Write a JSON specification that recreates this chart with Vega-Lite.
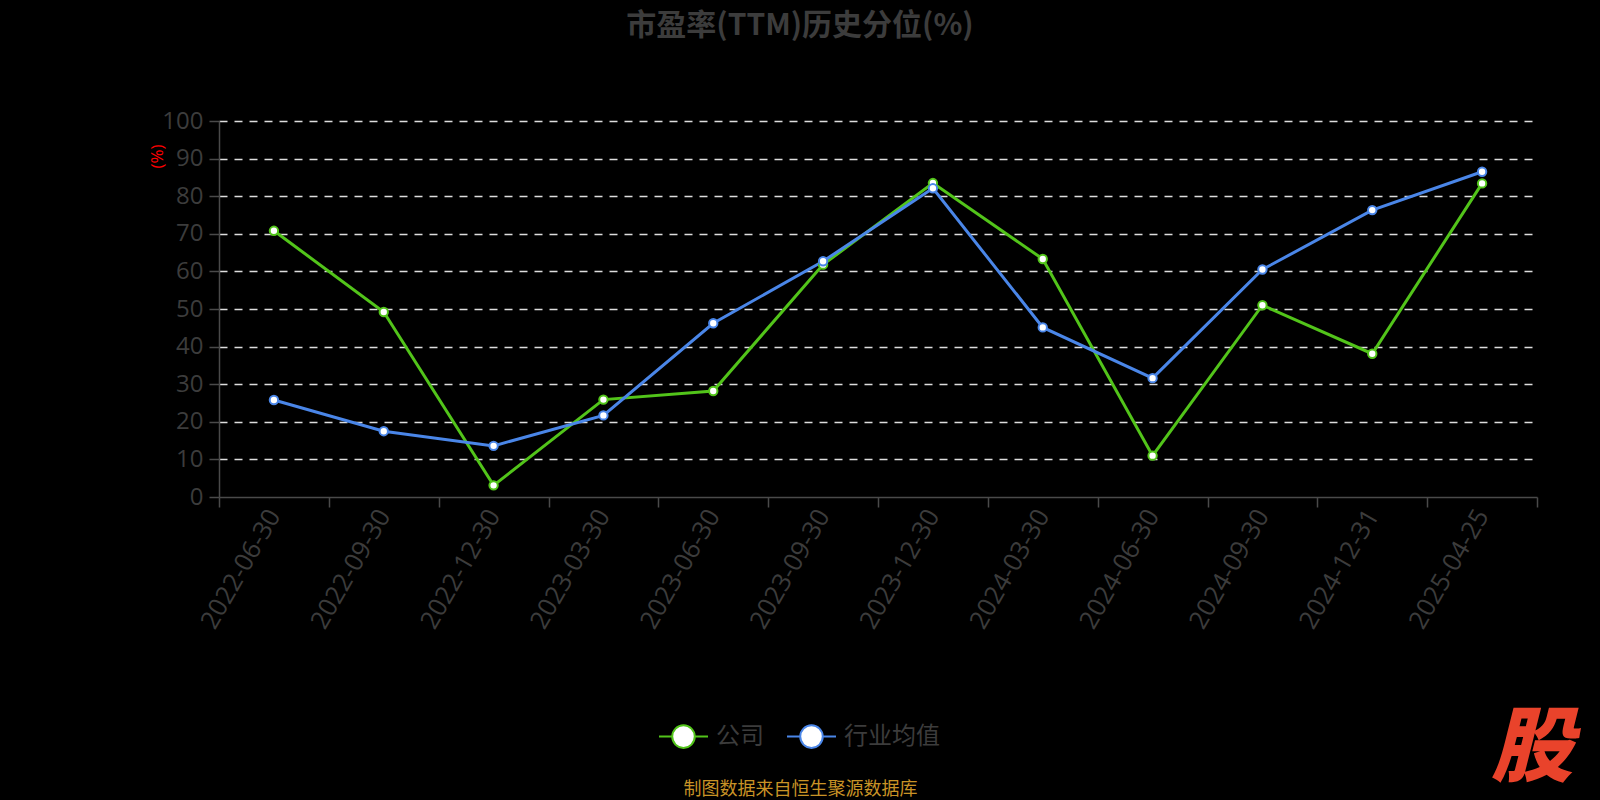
{
  "$schema": "https://vega.github.io/schema/vega-lite/v6.json",
  "autosize": {"type": "none"},
  "width": 1318,
  "height": 376,
  "padding": {"left": 219, "top": 121, "right": 63, "bottom": 303},
  "background": "#000000",
  "config": {"view": {"stroke": null}},
  "title": {
    "text": "市盈率(TTM)历史分位(%)",
    "font": "Noto Sans CJK SC",
    "fontSize": 30,
    "fontWeight": "bold",
    "color": "#3c3c3c",
    "anchor": "middle",
    "frame": "group",
    "dx": -78,
    "baseline": "middle",
    "offset": 53
  },
  "datasets": {
    "pe": [
      {"date": "2022-06-30", "series": "公司", "value": 70.8},
      {"date": "2022-09-30", "series": "公司", "value": 49.2},
      {"date": "2022-12-30", "series": "公司", "value": 3.1},
      {"date": "2023-03-30", "series": "公司", "value": 25.9},
      {"date": "2023-06-30", "series": "公司", "value": 28.2},
      {"date": "2023-09-30", "series": "公司", "value": 61.8},
      {"date": "2023-12-30", "series": "公司", "value": 83.5},
      {"date": "2024-03-30", "series": "公司", "value": 63.3},
      {"date": "2024-06-30", "series": "公司", "value": 11.0},
      {"date": "2024-09-30", "series": "公司", "value": 51.0},
      {"date": "2024-12-31", "series": "公司", "value": 38.1},
      {"date": "2025-04-25", "series": "公司", "value": 83.4},
      {"date": "2022-06-30", "series": "行业均值", "value": 25.8},
      {"date": "2022-09-30", "series": "行业均值", "value": 17.5},
      {"date": "2022-12-30", "series": "行业均值", "value": 13.6},
      {"date": "2023-03-30", "series": "行业均值", "value": 21.7},
      {"date": "2023-06-30", "series": "行业均值", "value": 46.2},
      {"date": "2023-09-30", "series": "行业均值", "value": 62.7},
      {"date": "2023-12-30", "series": "行业均值", "value": 82.1},
      {"date": "2024-03-30", "series": "行业均值", "value": 45.1},
      {"date": "2024-06-30", "series": "行业均值", "value": 31.6},
      {"date": "2024-09-30", "series": "行业均值", "value": 60.5},
      {"date": "2024-12-31", "series": "行业均值", "value": 76.3},
      {"date": "2025-04-25", "series": "行业均值", "value": 86.5}
    ],
    "logo": [{"mark": "股", "date": "2025-04-25", "value": -67.2}]
  },
  "encoding": {
    "x": {
      "field": "date",
      "type": "ordinal",
      "bandPosition": 0.5,
      "scale": {"type": "band", "paddingInner": 0, "paddingOuter": 0},
      "axis": {
        "title": "制图数据来自恒生聚源数据库",
        "titleFont": "Noto Sans CJK SC",
        "titleFontSize": 18,
        "titleFontWeight": "normal",
        "titleColor": "#c99326",
        "titleX": 581,
        "titleY": 292,
        "titleAngle": 0,
        "titleAlign": "center",
        "titleBaseline": "middle",
        "tickBand": "extent",
        "tickSize": 10,
        "tickWidth": 1.5,
        "tickColor": "#4a4a4a",
        "domainColor": "#4a4a4a",
        "domainWidth": 1.5,
        "grid": false,
        "labelAngle": -60,
        "labelAlign": "right",
        "labelBaseline": "middle",
        "labelPadding": 4,
        "labelFont": "Open Sans",
        "labelFontSize": 25.5,
        "labelColor": "#3c3c3c"
      }
    },
    "y": {
      "field": "value",
      "type": "quantitative",
      "scale": {"domain": [0, 100], "nice": false},
      "axis": {
        "title": "(%)",
        "titleFont": "Open Sans",
        "titleFontSize": 17,
        "titleFontWeight": "normal",
        "titleColor": "#ff0000",
        "titleX": -62,
        "titleY": 35,
        "titleAngle": 270,
        "titleAlign": "center",
        "titleBaseline": "middle",
        "values": [0, 10, 20, 30, 40, 50, 60, 70, 80, 90, 100],
        "labelOverlap": false,
        "tickSize": 10,
        "tickWidth": 1.5,
        "tickColor": "#4a4a4a",
        "domainColor": "#4a4a4a",
        "domainWidth": 1.5,
        "labelPadding": 6,
        "labelFont": "Open Sans",
        "labelFontSize": 24,
        "labelColor": "#3c3c3c",
        "grid": true,
        "gridColor": "#dddddd",
        "gridWidth": 1.5,
        "gridDash": [8, 7],
        "gridOpacity": {"condition": {"test": "datum.value === 0", "value": 0}, "value": 1}
      }
    }
  },
  "layer": [
    {
      "data": {"name": "pe"},
      "mark": {"type": "line", "strokeWidth": 3},
      "encoding": {
        "color": {
          "field": "series",
          "type": "nominal",
          "scale": {"domain": ["公司", "行业均值"], "range": ["#52c41a", "#4a86e8"]},
          "legend": {
            "title": null,
            "orient": "none",
            "direction": "horizontal",
            "legendX": 439,
            "legendY": 590,
            "symbolType": "M-1,0L-0.46,0M0.46,0L1,0M-0.46,0A0.46,0.46,0,1,1,0.46,0A0.46,0.46,0,1,1,-0.46,0Z",
            "symbolSize": 2400,
            "symbolStrokeWidth": 2,
            "symbolFillColor": "#ffffff",
            "labelFont": "Noto Sans CJK SC",
            "labelFontSize": 24,
            "labelColor": "#3c3c3c",
            "labelOffset": 7,
            "columnPadding": 19,
            "encode": {"symbols": {"update": {"fill": {"value": "#ffffff"}, "opacity": {"value": 1}}}}
          }
        }
      }
    },
    {
      "data": {"name": "pe"},
      "mark": {"type": "point", "filled": true, "fill": "#ffffff", "strokeWidth": 2, "size": 70, "opacity": 1},
      "encoding": {
        "stroke": {"field": "series", "type": "nominal", "scale": {"domain": ["公司", "行业均值"], "range": ["#52c41a", "#4a86e8"]}, "legend": null}
      }
    },
    {
      "data": {"name": "logo"},
      "mark": {"type": "text", "font": "Noto Sans CJK SC", "fontSize": 82, "fontWeight": 900, "fontStyle": "italic", "fill": "#e9432b", "baseline": "middle", "align": "center", "dx": 50},
      "encoding": {
        "text": {"field": "mark"}
      }
    }
  ]
}
